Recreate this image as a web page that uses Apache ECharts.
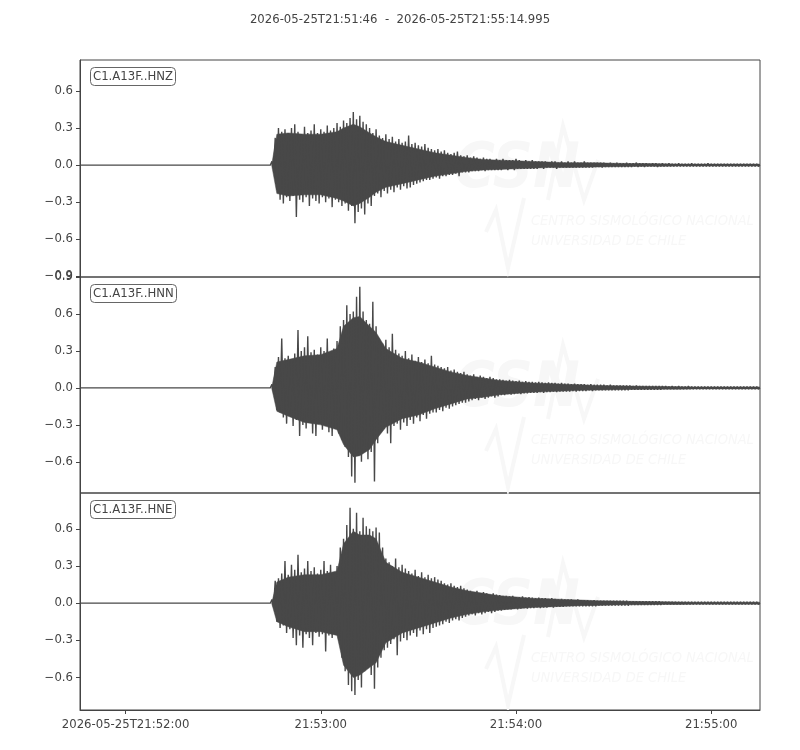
<!DOCTYPE html>
<html><head><meta charset="utf-8">
<script src="https://cdn.jsdelivr.net/npm/echarts@6/dist/echarts.min.js"></script>
<style>html,body{margin:0;padding:0;background:#fff}#c{width:800px;height:750px}</style>
</head><body><div id="c"></div>
<script>
// ---------------- data ----------------
const titleText = '2026-05-25T21:51:46  -  2026-05-25T21:55:14.995';
const traceNames = ['C1.A13F..HNZ', 'C1.A13F..HNN', 'C1.A13F..HNE'];
const traceEnd = 208.995;      // seconds after 21:51:46
const binStart = 59;           // first envelope bin (s)
const binWidth = 1;            // envelope bin width (s)
const xTickSeconds = [14, 74, 134, 194];
const xTickLabels = ['2026-05-25T21:52:00', '21:53:00', '21:54:00', '21:55:00'];
const yTicksHNZ = [-0.9, -0.6, -0.3, 0, 0.3, 0.6];
const yTicksHNN = [-0.6, -0.3, 0, 0.3, 0.6, 0.9];
const yTicksHNE = [-0.6, -0.3, 0, 0.3, 0.6];
const yRangeHNZ = [-0.905, 0.85];
const yRangeHNN = [-0.853, 0.9];
const yRangeHNE = [-0.862, 0.889];

// per-second peak envelope (max / min), t = 59 .. 208 s
const hnzUpper = [
 0.03,0.22,0.30,0.27,0.29,0.26,0.30,0.33,0.27,0.25,
 0.31,0.26,0.28,0.33,0.26,0.29,0.27,0.32,0.28,0.30,
 0.34,0.31,0.36,0.34,0.38,0.43,0.37,0.40,0.35,0.33,
 0.30,0.26,0.29,0.24,0.22,0.25,0.21,0.23,0.19,0.21,
 0.18,0.19,0.24,0.17,0.18,0.16,0.15,0.17,0.14,0.13,
 0.12,0.13,0.11,0.12,0.10,0.09,0.10,0.11,0.08,0.07,
 0.08,0.06,0.07,0.06,0.05,0.06,0.05,0.05,0.04,0.05,
 0.04,0.05,0.04,0.04,0.04,0.05,0.04,0.03,0.04,0.03,
 0.04,0.03,0.03,0.03,0.03,0.02,0.03,0.03,0.02,0.03,
 0.02,0.03,0.02,0.03,0.02,0.02,0.03,0.02,0.02,0.02,
 0.02,0.02,0.02,0.015,0.02,0.015,0.02,0.015,0.015,0.02,
 0.015,0.015,0.02,0.015,0.015,0.015,0.01,0.015,0.015,0.01,
 0.015,0.01,0.015,0.01,0.01,0.015,0.01,0.01,0.01,0.015,
 0.01,0.01,0.01,0.01,0.015,0.01,0.01,0.01,0.01,0.01,
 0.01,0.01,0.01,0.01,0.01,0.01,0.01,0.01,0.01,0.01];
const hnzLower = [
 -0.03,-0.20,-0.28,-0.31,-0.26,-0.29,-0.25,-0.42,-0.28,-0.30,
 -0.26,-0.33,-0.27,-0.29,-0.31,-0.26,-0.30,-0.27,-0.34,-0.28,
 -0.30,-0.33,-0.31,-0.37,-0.33,-0.47,-0.38,-0.35,-0.40,-0.31,
 -0.33,-0.25,-0.23,-0.26,-0.21,-0.23,-0.20,-0.22,-0.18,-0.20,
 -0.17,-0.19,-0.18,-0.16,-0.15,-0.14,-0.13,-0.12,-0.12,-0.11,
 -0.10,-0.11,-0.09,-0.09,-0.08,-0.08,-0.07,-0.09,-0.06,-0.06,
 -0.06,-0.05,-0.05,-0.05,-0.04,-0.05,-0.04,-0.04,-0.04,-0.04,
 -0.04,-0.03,-0.04,-0.03,-0.04,-0.03,-0.03,-0.03,-0.03,-0.03,
 -0.03,-0.03,-0.02,-0.03,-0.02,-0.02,-0.02,-0.03,-0.02,-0.02,
 -0.02,-0.02,-0.02,-0.02,-0.02,-0.02,-0.02,-0.02,-0.02,-0.015,
 -0.015,-0.02,-0.015,-0.015,-0.015,-0.015,-0.015,-0.015,-0.015,-0.015,
 -0.015,-0.01,-0.015,-0.01,-0.015,-0.01,-0.01,-0.01,-0.015,-0.01,
 -0.01,-0.01,-0.01,-0.01,-0.01,-0.01,-0.01,-0.01,-0.01,-0.01,
 -0.01,-0.01,-0.01,-0.01,-0.01,-0.01,-0.01,-0.01,-0.01,-0.01,
 -0.01,-0.01,-0.01,-0.01,-0.01,-0.01,-0.01,-0.01,-0.01,-0.01];
const hnnUpper = [
 0.03,0.17,0.25,0.40,0.24,0.26,0.23,0.28,0.47,0.30,
 0.33,0.42,0.29,0.31,0.27,0.33,0.30,0.40,0.28,0.32,
 0.38,0.50,0.55,0.67,0.60,0.62,0.74,0.82,0.62,0.55,
 0.52,0.70,0.50,0.40,0.36,0.39,0.33,0.44,0.31,0.28,
 0.26,0.30,0.24,0.27,0.22,0.25,0.21,0.23,0.20,0.26,
 0.19,0.18,0.17,0.16,0.17,0.14,0.15,0.13,0.12,0.13,
 0.11,0.10,0.11,0.09,0.10,0.09,0.08,0.09,0.08,0.07,
 0.07,0.065,0.06,0.065,0.06,0.055,0.06,0.05,0.055,0.05,
 0.05,0.045,0.05,0.045,0.04,0.045,0.04,0.04,0.035,0.04,
 0.035,0.035,0.03,0.035,0.03,0.03,0.03,0.025,0.03,0.025,
 0.025,0.025,0.025,0.02,0.025,0.02,0.02,0.02,0.02,0.02,
 0.02,0.015,0.02,0.015,0.015,0.015,0.015,0.015,0.015,0.015,
 0.015,0.015,0.01,0.015,0.01,0.015,0.01,0.01,0.015,0.01,
 0.01,0.01,0.01,0.01,0.01,0.01,0.01,0.01,0.01,0.01,
 0.01,0.01,0.01,0.01,0.01,0.01,0.01,0.01,0.01,0.01];
const hnnLower = [
 -0.03,-0.18,-0.20,-0.24,-0.29,-0.22,-0.31,-0.26,-0.39,-0.30,
 -0.33,-0.28,-0.37,-0.39,-0.29,-0.34,-0.31,-0.36,-0.39,-0.33,
 -0.37,-0.42,-0.48,-0.56,-0.72,-0.77,-0.55,-0.60,-0.50,-0.58,
 -0.52,-0.76,-0.45,-0.36,-0.33,-0.37,-0.45,-0.31,-0.29,-0.34,
 -0.28,-0.31,-0.26,-0.29,-0.24,-0.27,-0.22,-0.25,-0.21,-0.20,
 -0.20,-0.18,-0.19,-0.16,-0.17,-0.15,-0.14,-0.13,-0.12,-0.12,
 -0.11,-0.10,-0.09,-0.10,-0.08,-0.09,-0.08,-0.07,-0.08,-0.07,
 -0.06,-0.06,-0.05,-0.055,-0.05,-0.045,-0.05,-0.045,-0.045,-0.04,
 -0.04,-0.04,-0.035,-0.04,-0.035,-0.035,-0.03,-0.035,-0.03,-0.03,
 -0.03,-0.03,-0.025,-0.03,-0.025,-0.025,-0.025,-0.02,-0.025,-0.02,
 -0.02,-0.02,-0.02,-0.02,-0.02,-0.02,-0.02,-0.02,-0.02,-0.02,
 -0.015,-0.015,-0.015,-0.015,-0.015,-0.015,-0.015,-0.015,-0.015,-0.015,
 -0.01,-0.01,-0.01,-0.01,-0.01,-0.01,-0.01,-0.01,-0.01,-0.01,
 -0.01,-0.01,-0.01,-0.01,-0.01,-0.01,-0.01,-0.01,-0.01,-0.01,
 -0.01,-0.01,-0.01,-0.01,-0.01,-0.01,-0.01,-0.01,-0.01,-0.01];
const hneUpper = [
 0.03,0.18,0.20,0.24,0.34,0.23,0.31,0.27,0.39,0.25,
 0.28,0.34,0.26,0.29,0.24,0.27,0.34,0.26,0.31,0.25,
 0.30,0.45,0.52,0.63,0.77,0.60,0.73,0.58,0.69,0.62,
 0.60,0.58,0.61,0.57,0.45,0.36,0.33,0.30,0.36,0.29,
 0.31,0.28,0.26,0.24,0.27,0.22,0.25,0.21,0.23,0.20,
 0.21,0.19,0.18,0.16,0.15,0.16,0.14,0.13,0.14,0.12,
 0.11,0.10,0.09,0.10,0.08,0.09,0.08,0.07,0.08,0.07,
 0.065,0.06,0.06,0.055,0.06,0.05,0.05,0.055,0.045,0.05,
 0.045,0.04,0.045,0.04,0.04,0.035,0.04,0.035,0.03,0.035,
 0.03,0.03,0.03,0.025,0.03,0.025,0.025,0.025,0.02,0.025,
 0.02,0.02,0.02,0.02,0.02,0.02,0.02,0.02,0.02,0.02,
 0.015,0.015,0.015,0.015,0.015,0.015,0.015,0.015,0.015,0.015,
 0.01,0.01,0.01,0.01,0.01,0.01,0.01,0.01,0.01,0.01,
 0.01,0.01,0.01,0.01,0.01,0.01,0.01,0.01,0.01,0.01,
 0.01,0.01,0.01,0.01,0.01,0.01,0.01,0.01,0.01,0.01];
const hneLower = [
 -0.03,-0.15,-0.20,-0.18,-0.24,-0.21,-0.28,-0.34,-0.26,-0.36,
 -0.25,-0.28,-0.34,-0.24,-0.27,-0.25,-0.39,-0.26,-0.28,-0.24,
 -0.30,-0.44,-0.55,-0.66,-0.71,-0.74,-0.62,-0.68,-0.55,-0.50,
 -0.58,-0.69,-0.52,-0.44,-0.38,-0.36,-0.33,-0.29,-0.42,-0.31,
 -0.28,-0.30,-0.26,-0.24,-0.27,-0.22,-0.25,-0.21,-0.24,-0.20,
 -0.19,-0.18,-0.17,-0.15,-0.16,-0.14,-0.13,-0.14,-0.12,-0.11,
 -0.10,-0.09,-0.10,-0.08,-0.09,-0.08,-0.07,-0.08,-0.07,-0.06,
 -0.06,-0.055,-0.05,-0.05,-0.045,-0.05,-0.045,-0.04,-0.045,-0.04,
 -0.04,-0.035,-0.04,-0.035,-0.035,-0.03,-0.035,-0.03,-0.03,-0.03,
 -0.025,-0.025,-0.025,-0.025,-0.025,-0.025,-0.025,-0.025,-0.025,-0.025,
 -0.02,-0.02,-0.02,-0.02,-0.02,-0.02,-0.02,-0.02,-0.02,-0.02,
 -0.015,-0.015,-0.015,-0.015,-0.015,-0.015,-0.015,-0.015,-0.015,-0.015,
 -0.01,-0.01,-0.01,-0.01,-0.01,-0.01,-0.01,-0.01,-0.01,-0.01,
 -0.01,-0.01,-0.01,-0.01,-0.01,-0.01,-0.01,-0.01,-0.01,-0.01,
 -0.01,-0.01,-0.01,-0.01,-0.01,-0.01,-0.01,-0.01,-0.01,-0.01];

// dense core of each trace (where the signal is solid)
const coreTimes = [58.9, 60.5, 64, 69, 74, 79, 81, 84, 86, 89, 91, 94, 99, 104, 109, 114, 119, 124, 129,
  134, 139, 144, 149, 154, 159, 164, 169, 174, 179, 184, 189, 194, 199, 204, 208.9];
const hnzCoreUpper = [0, 0.25, 0.26, 0.25, 0.25, 0.27, 0.30, 0.33, 0.31, 0.26, 0.23, 0.19, 0.16, 0.13, 0.10, 0.08, 0.06, 0.045, 0.04,
  0.035, 0.03, 0.025, 0.02, 0.02, 0.018, 0.015, 0.013, 0.012, 0.01, 0.008, 0.008, 0.008, 0.008, 0.008, 0.008];
const hnzCoreLower = [0, -0.23, -0.25, -0.24, -0.24, -0.27, -0.29, -0.33, -0.31, -0.26, -0.22, -0.18, -0.15, -0.12, -0.09, -0.07, -0.05, -0.04, -0.035,
  -0.03, -0.025, -0.02, -0.02, -0.018, -0.015, -0.013, -0.012, -0.01, -0.01, -0.008, -0.008, -0.008, -0.008, -0.008, -0.008];
const hnnCoreUpper = [0, 0.21, 0.23, 0.26, 0.27, 0.32, 0.50, 0.57, 0.58, 0.50, 0.45, 0.32, 0.24, 0.21, 0.17, 0.13, 0.10, 0.08, 0.06,
  0.05, 0.04, 0.035, 0.03, 0.025, 0.02, 0.018, 0.015, 0.013, 0.012, 0.01, 0.008, 0.008, 0.008, 0.008, 0.008];
const hnnCoreLower = [0, -0.19, -0.23, -0.28, -0.30, -0.34, -0.46, -0.56, -0.55, -0.50, -0.42, -0.32, -0.25, -0.22, -0.17, -0.13, -0.09, -0.075, -0.055,
  -0.045, -0.035, -0.03, -0.025, -0.02, -0.018, -0.015, -0.013, -0.012, -0.01, -0.01, -0.008, -0.008, -0.008, -0.008, -0.008];
const hneCoreUpper = [0, 0.17, 0.21, 0.23, 0.23, 0.26, 0.48, 0.58, 0.55, 0.55, 0.52, 0.33, 0.25, 0.21, 0.17, 0.13, 0.10, 0.08, 0.06,
  0.05, 0.04, 0.035, 0.03, 0.025, 0.02, 0.018, 0.015, 0.013, 0.012, 0.01, 0.008, 0.008, 0.008, 0.008, 0.008];
const hneCoreLower = [0, -0.15, -0.19, -0.23, -0.23, -0.26, -0.50, -0.60, -0.58, -0.52, -0.48, -0.32, -0.24, -0.20, -0.16, -0.12, -0.09, -0.07, -0.055,
  -0.045, -0.035, -0.03, -0.025, -0.02, -0.018, -0.015, -0.013, -0.012, -0.01, -0.01, -0.008, -0.008, -0.008, -0.008, -0.008];

// ---------------- chart ----------------
const FONT = 'DejaVu Sans';
const INK = '#444444';
const WAVE = '#484848';

function traceData(upper, lower) {
  const pts = [[0, 0], [binStart - 0.5, 0]];
  for (let i = 0; i < upper.length; i++) {
    const t = binStart + i * binWidth;
    pts.push([t, upper[i]]);
    pts.push([t + binWidth / 2, lower[i]]);
  }
  pts.push([traceEnd, 0]);
  return pts;
}
const traces = [
  traceData(hnzUpper, hnzLower),
  traceData(hnnUpper, hnnLower),
  traceData(hneUpper, hneLower)
];
const cores = [
  [hnzCoreUpper, hnzCoreLower],
  [hnnCoreUpper, hnnCoreLower],
  [hneCoreUpper, hneCoreLower]
];
const yTicks = [yTicksHNZ, yTicksHNN, yTicksHNE];
const yRanges = [yRangeHNZ, yRangeHNN, yRangeHNE];
const grids = [
  {left: 80, right: 40, top: 60, height: 217},
  {left: 80, right: 40, top: 277, height: 216},
  {left: 80, right: 40, top: 493, height: 217}
];
const fmtY = v => (v < 0 ? '\u2212' : '') + Math.abs(v).toFixed(1);
const fmtX = v => {
  const k = xTickSeconds.findIndex(s => Math.abs(s - v) < 1e-6);
  return k >= 0 ? xTickLabels[k] : '';
};

const chart = echarts.init(document.getElementById('c'), null, {renderer: 'canvas'});

const wmColor = '#f7f7f7';
const wmOffsets = [0, 219, 437];
const graphics = [];
wmOffsets.forEach(dy => {
  graphics.push({type: 'text', z: 0, silent: true, left: 454, top: 140 + dy,
    style: {text: 'CSN', fill: wmColor, font: 'italic bold 62px "DejaVu Sans Condensed"'}});
  graphics.push({type: 'polyline', z: 0, silent: true,
    shape: {points: [[548, 200 + dy], [563, 126 + dy], [584, 200 + dy], [598, 160 + dy]]},
    style: {stroke: wmColor, lineWidth: 4, fill: null}});
  graphics.push({type: 'polyline', z: 0, silent: true,
    shape: {points: [[486, 232 + dy], [496, 210 + dy], [508, 268 + dy], [524, 198 + dy]]},
    style: {stroke: wmColor, lineWidth: 4, fill: null}});
  graphics.push({type: 'text', z: 0, silent: true, left: 531, top: 214 + dy,
    style: {text: 'CENTRO SISMOLÓGICO NACIONAL', fill: wmColor, font: 'italic 14.5px "DejaVu Sans Condensed"'}});
  graphics.push({type: 'text', z: 0, silent: true, left: 531, top: 234 + dy,
    style: {text: 'UNIVERSIDAD DE CHILE', fill: wmColor, font: 'italic 14.5px "DejaVu Sans Condensed"'}});
});

const series = [];
cores.forEach((pair, i) => {
  series.push({
    type: 'custom', xAxisIndex: i, yAxisIndex: i, data: [[coreTimes[0], 0]], clip: true, z: 2,
    silent: true,
    renderItem: (params, api) => {
      const up = coreTimes.map((t, k) => api.coord([t, pair[0][k]]));
      const lo = coreTimes.map((t, k) => api.coord([t, pair[1][k]])).reverse();
      return {type: 'polygon', shape: {points: up.concat(lo)}, style: {fill: WAVE, stroke: WAVE, lineWidth: 0.5}};
    }
  });
});
traces.forEach((d, i) => {
  series.push({
    type: 'line', xAxisIndex: i, yAxisIndex: i, data: d,
    showSymbol: false, symbol: 'none', clip: true, z: 3,
    lineStyle: {color: WAVE, width: 1.4},
    emphasis: {disabled: true}
  });
});

const option = {
  animation: false,
  backgroundColor: '#ffffff',
  title: [
    {text: titleText, left: 'center', top: 14, padding: 0,
     textStyle: {fontFamily: FONT, fontSize: 11.7, fontWeight: 'normal', color: INK}}
  ].concat(traceNames.map((n, i) => ({
    text: n, left: 90, top: grids[i].top + 7, padding: [3, 3, 2, 3],
    borderColor: '#666666', borderWidth: 1, borderRadius: 4, backgroundColor: '#ffffff',
    textStyle: {fontFamily: FONT, fontSize: 11.7, fontWeight: 'normal', color: INK, lineHeight: 14}
  }))),
  graphic: {elements: graphics},
  grid: grids.map(g => Object.assign({show: true, borderColor: INK, borderWidth: 1, backgroundColor: 'transparent', containLabel: false}, g)),
  xAxis: grids.map((g, i) => ({
    type: 'value', gridIndex: i, min: 0, max: traceEnd,
    show: i === 2,
    splitLine: {show: false},
    axisLine: {show: true, onZero: false, lineStyle: {color: INK, width: 1}},
    axisTick: {show: true, length: 4, lineStyle: {color: INK}, customValues: xTickSeconds},
    axisLabel: {show: true, customValues: xTickSeconds, formatter: fmtX, margin: 9,
      fontFamily: FONT, fontSize: 11.7, color: INK, showMinLabel: true, showMaxLabel: true}
  })),
  yAxis: grids.map((g, i) => ({
    type: 'value', gridIndex: i, min: yRanges[i][0], max: yRanges[i][1],
    splitLine: {show: false},
    axisLine: {show: true, onZero: false, lineStyle: {color: INK, width: 1}},
    axisTick: {show: true, length: 4, lineStyle: {color: INK}, customValues: yTicks[i]},
    axisLabel: {show: true, customValues: yTicks[i], formatter: fmtY, margin: 7,
      fontFamily: FONT, fontSize: 11.7, color: INK}
  })),
  series: series
};
chart.setOption(option);
</script>
</body></html>
